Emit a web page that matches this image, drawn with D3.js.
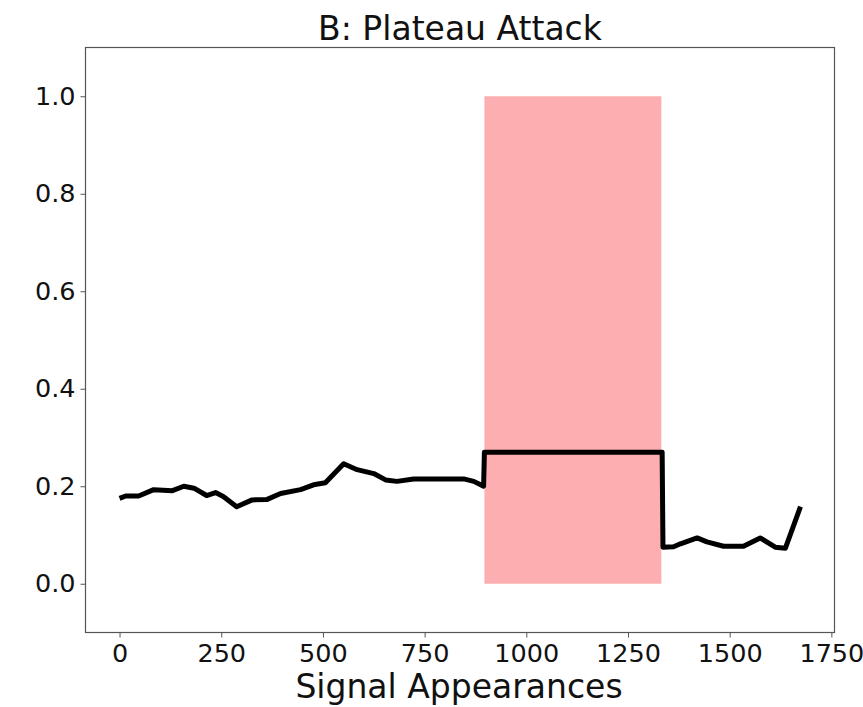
<!DOCTYPE html>
<html><head><meta charset="utf-8">
<script src="https://cdn.jsdelivr.net/npm/d3@7"></script>
<style>body{margin:0;background:#fff;} svg{display:block;}</style>
</head><body>
<svg id="chart" width="863" height="707"></svg>
<script>
const titleText = "B: Plateau Attack";
const xLabel = "Signal Appearances";
const xs = [0, 15, 47, 84, 130, 158, 183, 214, 236, 255, 288, 326, 363, 396, 445, 477, 506, 551, 584, 625, 654, 682, 723, 846, 871, 895,
            897, 1334, 1336, 1362, 1379, 1420, 1444, 1485, 1534, 1575, 1612, 1637, 1674];
const ys = [0.175, 0.18, 0.18, 0.193, 0.191, 0.2, 0.196, 0.181, 0.187, 0.179, 0.158, 0.172, 0.173, 0.185, 0.193, 0.203, 0.207, 0.246, 0.234, 0.226, 0.213, 0.21, 0.215, 0.215, 0.21, 0.2,
            0.27, 0.27, 0.075, 0.076, 0.082, 0.094, 0.086, 0.077, 0.077, 0.094, 0.075, 0.073, 0.158];
const spanX = [897, 1332];
const spanY = [0, 1.0];
const xTicks = [0, 250, 500, 750, 1000, 1250, 1500, 1750];
const yTicks = [0.0, 0.2, 0.4, 0.6, 0.8, 1.0];

const svg = d3.select("#chart");
const L = 85.5, R = 834.5, T = 47.5, B = 632.5;
const x = d3.scaleLinear().domain([-83.7, 1757.7]).range([L, R]);
const y = d3.scaleLinear().domain([-0.1, 1.1]).range([B, T]);

svg.append("rect").attr("x", x(spanX[0])).attr("y", y(spanY[1]))
  .attr("width", x(spanX[1]) - x(spanX[0])).attr("height", y(spanY[0]) - y(spanY[1]))
  .attr("fill", "#fdaeb1");

const pts = xs.map((v, i) => [v, ys[i]]);
svg.append("path").datum(pts)
  .attr("d", d3.line().x(d => x(d[0])).y(d => y(d[1])))
  .attr("fill", "none").attr("stroke", "#000").attr("stroke-width", 5)
  .attr("stroke-linejoin", "round").attr("stroke-linecap", "butt");

svg.append("rect").attr("x", L).attr("y", T).attr("width", R - L).attr("height", B - T)
  .attr("fill", "none").attr("stroke", "#555").attr("stroke-width", 1.2);

const font = "DejaVu Sans";
const xAxis = svg.append("g").attr("transform", `translate(0,${B})`)
  .call(d3.axisBottom(x).tickValues(xTicks).tickFormat(d3.format("d")).tickSize(5).tickPadding(6));
const yAxis = svg.append("g").attr("transform", `translate(${L},0)`)
  .call(d3.axisLeft(y).tickValues(yTicks).tickFormat(d3.format(".1f")).tickSize(5).tickPadding(5));
[xAxis, yAxis].forEach(g => {
  g.select(".domain").remove();
  g.selectAll(".tick line").attr("stroke", "#555");
  g.selectAll(".tick text").attr("font-family", font).attr("font-size", 25.5).attr("fill", "#111");
});
xAxis.selectAll(".tick text").attr("dy", "0.71em");

svg.append("text").attr("x", (L + R) / 2).attr("y", 40).attr("text-anchor", "middle")
  .attr("font-family", font).attr("font-size", 33).attr("fill", "#111").text(titleText);
svg.append("text").attr("x", (L + R) / 2 - 1).attr("y", 698).attr("text-anchor", "middle")
  .attr("font-family", font).attr("font-size", 33).attr("fill", "#111").text(xLabel);
</script>
</body></html>
